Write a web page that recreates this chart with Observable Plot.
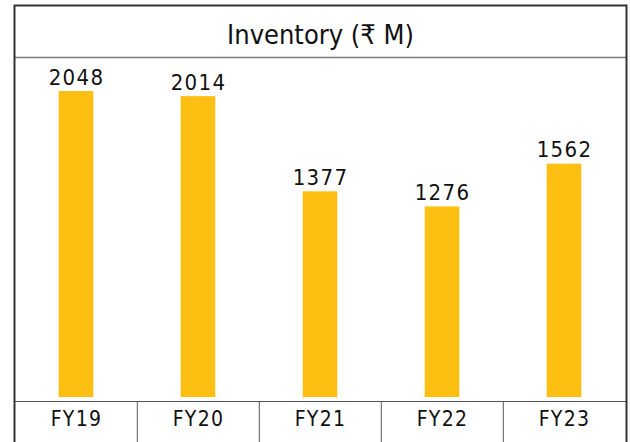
<!DOCTYPE html>
<html><head><meta charset="utf-8">
<script src="https://cdn.jsdelivr.net/npm/d3@7"></script>
<script src="https://cdn.jsdelivr.net/npm/@observablehq/plot@0.6"></script>
<style>body{margin:0;background:#fff}</style>
</head><body><div id="chart"></div>
<script>
const categories = ["FY19", "FY20", "FY21", "FY22", "FY23"];
const values = [2048, 2014, 1377, 1276, 1562];
const title = "Inventory (₹ M)";
const data = categories.map((c, i) => ({cat: c, value: values[i]}));

const W = 630, H = 442, mL = 14, mR = 4, mT = 57, mB = 45;
const band = (W - mL - mR) / categories.length;
const barW = 35;
const yMax = 2276;
const font = "'DejaVu Sans Condensed', 'Liberation Sans Narrow', 'DejaVu Sans', sans-serif";

const chart = Plot.plot({
  width: W, height: H,
  marginLeft: mL, marginRight: mR, marginTop: mT, marginBottom: mB,
  style: {fontFamily: font, background: "#fff", color: "#111"},
  x: {domain: categories, padding: 0, label: null, tickSize: 0},
  y: {domain: [0, yMax], axis: null},
  marks: [
    Plot.barY(data, {x: "cat", y: "value", fill: "#FDBF11", insetLeft: (band - barW) / 2, insetRight: (band - barW) / 2}),
    Plot.text(data, {x: "cat", y: "value", text: d => String(d.value), lineAnchor: "bottom", dy: -7, fontSize: 22, fill: "#111"}),
    Plot.ruleX(categories.slice(1), {x: d => d, dx: -band / 2, dy: 4, y1: 0, y2: -400, stroke: "#555", strokeWidth: 1}),
    Plot.ruleY([0], {dy: 4, stroke: "#555", strokeWidth: 1.2}),
    Plot.ruleY([yMax], {stroke: "#777", strokeWidth: 1.5}),
    Plot.frame({insetTop: -52, insetBottom: -60, stroke: "#333", strokeWidth: 2}),
    Plot.text([title], {frameAnchor: "top", dy: -22, text: d => d, fontSize: 27, fill: "#111", lineAnchor: "middle"}),
    Plot.axisX({tickSize: 0, tickPadding: 14, fontSize: 21, fill: "#111"})
  ]
});
chart.querySelectorAll("g[aria-label='x-axis tick label'] text, g[aria-label='text'] text").forEach(t => {
  if (t.textContent !== title) t.setAttribute("letter-spacing", "1.3");
});
document.getElementById("chart").appendChild(chart);
</script></body></html>
